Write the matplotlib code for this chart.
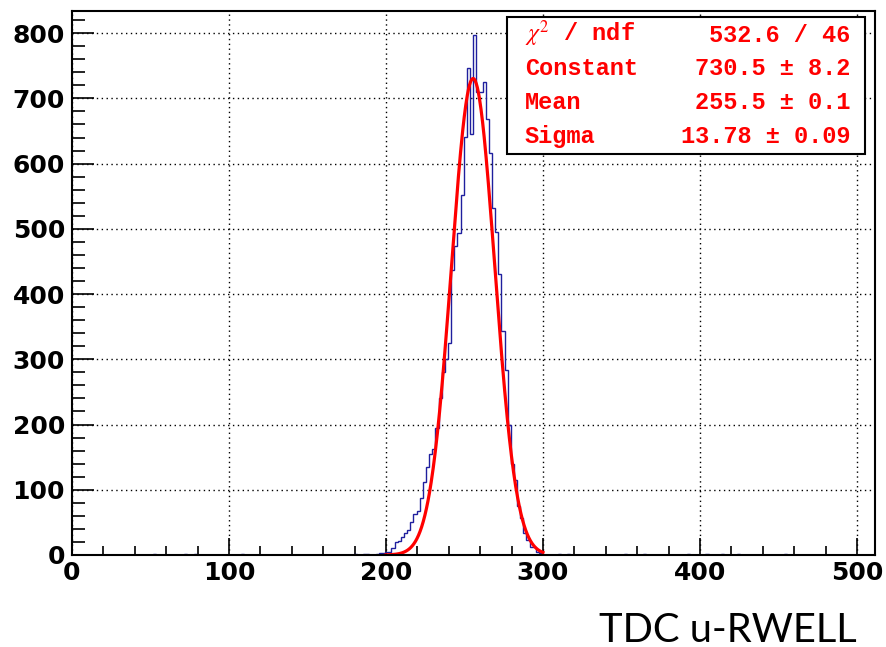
import numpy as np
import matplotlib
matplotlib.use("Agg")
import matplotlib.pyplot as plt
from matplotlib.patches import Rectangle

# ---------------- data ----------------
bin_width = 2.0
x_low, x_high = -0.5, 511.5

# non-empty bins: centre -> counts
hist_centers = [52.5, 72.5, 78.5, 108.5, 180.5, 186.5, 188.5, 194.5, 196.5, 198.5,
                200.5, 202.5, 204.5, 206.5, 208.5, 210.5, 212.5, 214.5, 216.5, 218.5,
                220.5, 222.5, 224.5, 226.5, 228.5, 230.5, 232.5, 234.5, 236.5, 238.5,
                240.5, 242.5, 244.5, 246.5, 248.5, 250.5, 252.5, 254.5, 256.5, 258.5,
                260.5, 262.5, 264.5, 266.5, 268.5, 270.5, 272.5, 274.5, 276.5, 278.5,
                280.5, 282.5, 284.5, 286.5, 288.5, 290.5, 292.5, 294.5, 296.5, 298.5,
                310.5, 316.5, 352.5, 364.5, 392.5, 404.5, 414.5, 424.5, 454.5]
hist_counts = [2, 2, 2, 2, 2, 2, 2, 2, 3, 3,
               4, 5, 10, 20, 22, 28, 33, 38, 50, 63,
               68, 88, 112, 135, 155, 162, 195, 240, 280, 300,
               325, 437, 474, 493, 552, 641, 747, 646, 797, 710,
               710, 725, 668, 616, 532, 495, 431, 344, 283, 200,
               140, 115, 75, 56, 33, 23, 13, 12, 5, 3,
               2, 2, 2, 2, 2, 2, 2, 2, 2]

# Gaussian fit parameters (from stats box)
fit_constant = 730.5
fit_mean = 255.5
fit_sigma = 13.78
fit_range = [200.0, 300.0]

stats_labels = [r"$\mathit{\chi}^{2}$ / ndf", "Constant", "Mean", "Sigma"]
stats_values = ["532.6 / 46", "730.5 \u00b1 8.2", "255.5 \u00b1 0.1", "13.78 \u00b1 0.09"]

x_ticks = [0, 100, 200, 300, 400, 500]
y_ticks = [0, 100, 200, 300, 400, 500, 600, 700, 800]
bottom_title = "TDC u-RWELL"

# ---------------- build ----------------
plt.rcParams["mathtext.fontset"] = "stix"

n_bins = int(round((x_high - x_low) / bin_width))
edges = x_low + bin_width * np.arange(n_bins + 1)
counts = np.zeros(n_bins)
for c, v in zip(hist_centers, hist_counts):
    idx = int((c - x_low) // bin_width)
    counts[idx] = v

fig = plt.figure(figsize=(8.86, 6.47), dpi=100)
ax = fig.add_axes([72 / 886, 1 - 555 / 647, 803 / 886, 544 / 647])

ax.stairs(counts, edges, color="#1f1f9e", lw=1.0, zorder=2)

xf = np.linspace(fit_range[0], fit_range[1], 300)
yf = fit_constant * np.exp(-0.5 * ((xf - fit_mean) / fit_sigma) ** 2)
ax.plot(xf, yf, color="#ff0000", lw=2.3, zorder=3)

ax.set_xlim(0, x_high)
ax.set_ylim(0, 834)
ax.set_xticks(x_ticks)
ax.set_yticks(y_ticks)
ax.set_xticks(np.arange(0, 512, 20), minor=True)
ax.set_yticks(np.arange(0, 834, 20), minor=True)
ax.grid(True, which="major", linestyle=(0, (1, 2.5)), color="black", lw=1.0)

ax.tick_params(axis="x", which="major", direction="in", length=12, width=1.2, pad=4,
               top=False, labelsize=18)
ax.tick_params(axis="x", which="minor", direction="in", length=6.5, width=1.2, top=False)
ax.tick_params(axis="y", which="major", direction="in", length=16, width=1.2, pad=5,
               right=False, labelsize=18)
ax.tick_params(axis="y", which="minor", direction="in", length=9, width=1.2, right=False)
for lab in ax.get_xticklabels() + ax.get_yticklabels():
    lab.set_fontweight("bold")
    lab.set_family("DejaVu Sans")
for s in ax.spines.values():
    s.set_linewidth(1.5)
    s.set_zorder(4)

# stats box
box = Rectangle((0.5417, 0.737), 0.9875 - 0.5417, 0.989 - 0.737, transform=ax.transAxes,
                facecolor="white", edgecolor="black", lw=1.5, zorder=5)
ax.add_patch(box)
row_y = [0.9436, 0.8824, 0.8199, 0.7574]
for lab, val, yy in zip(stats_labels, stats_values, row_y):
    ax.text(0.564, yy, lab, transform=ax.transAxes, ha="left", va="baseline",
            color="#ff0000", fontsize=17, fontweight="bold", family="Liberation Mono", zorder=6)
    ax.text(0.969, yy, val, transform=ax.transAxes, ha="right", va="baseline",
            color="#ff0000", fontsize=17, fontweight="bold", family="Liberation Mono", zorder=6)

fig.text(0.967, 0.0085, bottom_title, ha="right", va="baseline", fontsize=28.7,
         family="Lato", color="black")

fig.savefig("out.png", dpi=100)
